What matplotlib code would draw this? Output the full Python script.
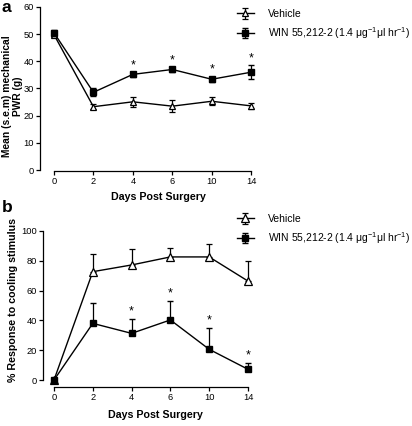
import matplotlib
matplotlib.use("Agg")
import matplotlib.pyplot as plt
import numpy as np

plt.rcParams['font.family'] = ['Liberation Sans', 'DejaVu Sans']
plt.rcParams['mathtext.fontset'] = 'custom'
plt.rcParams['mathtext.rm'] = 'Liberation Sans'
plt.rcParams['mathtext.it'] = 'Liberation Sans'

days = ['0', '2', '4', '6', '10', '14']

veh_a = [49.8, 23.3, 25.1, 23.5, 25.3, 23.6]
veh_a_err = [1.0, 1.0, 1.8, 2.2, 1.5, 1.0]
win_a = [50.5, 28.6, 35.2, 37.0, 33.4, 36.0]
win_a_err = [1.0, 1.5, 1.0, 1.0, 1.0, 2.5]
sig_a = [False, False, True, True, True, True]

veh_b = [0.0, 72.7, 77.2, 82.6, 82.6, 66.4]
veh_b_err = [0.0, 11.6, 10.5, 6.3, 8.7, 13.4]
win_b = [0.0, 38.0, 31.3, 40.3, 20.6, 7.2]
win_b_err = [0.0, 14.0, 9.4, 12.7, 14.0, 4.0]
sig_b = [False, False, True, True, True, True]

veh_label = 'Vehicle'
win_label = r'WIN 55,212-2 (1.4 μg$^{\mathregular{-1}}$μl hr$^{\mathregular{-1}}$)'

W, H = 412, 426
fig = plt.figure(figsize=(W/100, H/100), dpi=100)

def px_axes(left, right, top, bottom):
    return fig.add_axes([left/W, 1-bottom/H, (right-left)/W, (bottom-top)/H])

x = np.arange(len(days))
fs = 6.7
lfs = 7.7

def style(ax, ymax, ystep, offset, xlim):
    ax.set_xlim(*xlim)
    ax.set_ylim(0, ymax)
    for s in ['top', 'right']:
        ax.spines[s].set_visible(False)
    ax.spines['bottom'].set_position(('outward', offset))
    ax.spines['bottom'].set_bounds(0, len(days)-1)
    ax.spines['left'].set_bounds(0, ymax)
    ax.spines['left'].set_linewidth(0.9)
    ax.spines['bottom'].set_linewidth(0.9)
    ax.set_xticks(x)
    ax.set_xticklabels(days)
    ax.set_yticks(np.arange(0, ymax+1, ystep))
    ax.tick_params(direction='out', length=3, width=0.9, labelsize=fs, pad=1.5)

leg_kw = dict(frameon=False, fontsize=7.5, handlelength=1.6, handletextpad=1.4,
              labelspacing=0.55, borderaxespad=0, borderpad=0,
              bbox_transform=fig.transFigure, loc='upper left')

# Panel a
axa = px_axes(40, 263, 7, 170)
style(axa, 60, 10, 0.5, (-0.355, 5.3))
axa.errorbar(x, veh_a, yerr=veh_a_err, color='black', lw=1.0, marker='^', ms=5,
             mfc='white', mec='black', mew=0.9, capsize=2, elinewidth=0.9,
             clip_on=False, label=veh_label, zorder=3)
axa.errorbar(x, win_a, yerr=win_a_err, color='black', lw=1.0, marker='s', ms=4.3,
             mfc='black', mec='black', capsize=2, elinewidth=0.9,
             clip_on=False, label=win_label, zorder=4)
for i in range(len(days)):
    if sig_a[i]:
        axa.annotate('*', (x[i], win_a[i] + win_a_err[i]), xytext=(0, 0.5),
                     textcoords='offset points', ha='center', va='bottom', fontsize=9)
axa.set_ylabel('Mean (s.e.m) mechanical\nPWR (g)', fontsize=7.4, fontweight='bold',
               linespacing=1.05)
axa.yaxis.label.set_va('center')
axa.yaxis.set_label_coords(-0.124, 0.455)
axa.set_xlabel('Days Post Surgery', fontsize=lfs, fontweight='bold')
axa.xaxis.label.set_va('center')
axa.xaxis.set_label_coords(0.531, -0.166)
axa.legend(bbox_to_anchor=(237/W, 1-9/H), **leg_kw)
fig.text(2/W, 1-8/H, 'a', fontsize=12.5, fontweight='bold', va='center')

# Panel b
axb = px_axes(43, 259.6, 231, 380)
style(axb, 100, 20, 5, (-0.2835, 5.3))
axb.errorbar(x, veh_b, yerr=[np.zeros(len(days)), veh_b_err], color='black', lw=1.0,
             marker='^', ms=5.5, mfc='white', mec='black', mew=0.9, capsize=2.5,
             elinewidth=0.9, clip_on=False, label=veh_label, zorder=3)
axb.errorbar(x, win_b, yerr=[np.zeros(len(days)), win_b_err], color='black', lw=1.0,
             marker='s', ms=5, mfc='black', mec='black', capsize=2.5, elinewidth=0.9,
             clip_on=False, label=win_label, zorder=4)
for i in range(len(days)):
    if sig_b[i]:
        axb.annotate('*', (x[i], win_b[i] + win_b_err[i]), xytext=(0, 1.5),
                     textcoords='offset points', ha='center', va='bottom', fontsize=9)
axb.set_ylabel('% Response to cooling stimulus', fontsize=lfs, fontweight='bold')
axb.yaxis.label.set_va('center')
axb.yaxis.set_label_coords(-0.14, 0.537)
axb.set_xlabel('Days Post Surgery', fontsize=lfs, fontweight='bold')
axb.xaxis.label.set_va('center')
axb.xaxis.set_label_coords(0.52, -0.235)
axb.legend(bbox_to_anchor=(237/W, 1-214/H), **leg_kw)
fig.text(2/W, 1-208/H, 'b', fontsize=12.5, fontweight='bold', va='center')

fig.savefig('out.png', dpi=100)
